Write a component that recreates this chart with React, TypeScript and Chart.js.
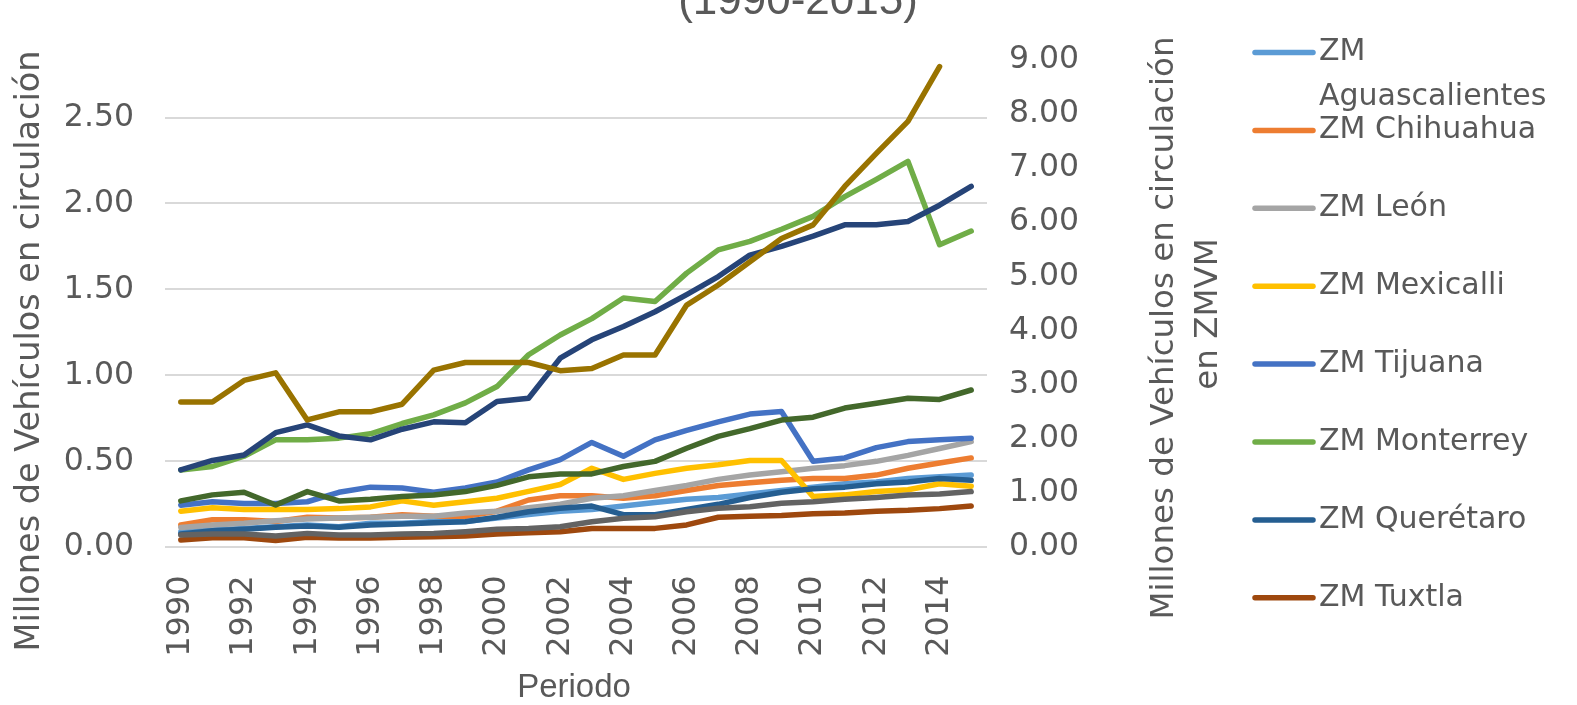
import React, { useEffect, useRef } from 'react';
import { Chart, registerables } from 'chart.js';

Chart.register(...registerables);

// ---------- data ----------
const years = ['1990','1991','1992','1993','1994','1995','1996','1997','1998','1999','2000','2001','2002','2003','2004','2005','2006','2007','2008','2009','2010','2011','2012','2013','2014','2015'];

const aguascalientes = [0.09,0.10,0.11,0.12,0.13,0.12,0.14,0.14,0.15,0.15,0.17,0.19,0.21,0.22,0.24,0.26,0.28,0.29,0.31,0.33,0.35,0.37,0.38,0.40,0.41,0.42];
const chihuahua = [0.13,0.16,0.16,0.15,0.175,0.17,0.175,0.19,0.18,0.18,0.21,0.275,0.30,0.30,0.285,0.30,0.33,0.36,0.375,0.39,0.40,0.40,0.42,0.46,0.49,0.52];
const leon = [0.115,0.13,0.14,0.155,0.165,0.17,0.175,0.18,0.18,0.20,0.21,0.23,0.25,0.285,0.30,0.33,0.36,0.395,0.42,0.44,0.46,0.475,0.50,0.535,0.575,0.615];
const mexicalli = [0.21,0.23,0.22,0.22,0.22,0.225,0.235,0.27,0.245,0.265,0.285,0.325,0.365,0.46,0.395,0.43,0.46,0.48,0.505,0.505,0.295,0.305,0.325,0.335,0.37,0.355];
const tijuana = [0.245,0.265,0.255,0.255,0.265,0.32,0.35,0.345,0.32,0.345,0.38,0.45,0.51,0.61,0.53,0.625,0.68,0.73,0.775,0.79,0.50,0.52,0.58,0.615,0.625,0.635];
const monterrey = [0.45,0.47,0.53,0.625,0.625,0.635,0.66,0.72,0.77,0.84,0.935,1.12,1.235,1.33,1.45,1.43,1.595,1.73,1.78,1.85,1.925,2.04,2.14,2.245,1.76,1.84];
const queretaro = [0.077,0.097,0.105,0.116,0.124,0.116,0.13,0.136,0.143,0.149,0.175,0.207,0.227,0.24,0.19,0.19,0.22,0.25,0.29,0.32,0.34,0.35,0.37,0.38,0.40,0.39];
const tuxtla = [0.042,0.056,0.056,0.04,0.058,0.054,0.054,0.058,0.062,0.066,0.077,0.085,0.091,0.11,0.11,0.11,0.13,0.175,0.18,0.185,0.195,0.20,0.21,0.215,0.225,0.24];
const toluca = [0.072,0.077,0.077,0.066,0.081,0.072,0.072,0.077,0.081,0.091,0.105,0.11,0.12,0.149,0.169,0.178,0.207,0.227,0.236,0.256,0.265,0.279,0.29,0.304,0.31,0.324];
const zmvm = [2.68,2.68,3.08,3.22,2.35,2.50,2.50,2.64,3.27,3.41,3.41,3.41,3.26,3.30,3.55,3.55,4.47,4.84,5.27,5.70,5.95,6.66,7.27,7.86,8.87,null];
const guadalajara = [0.45,0.505,0.537,0.667,0.712,0.648,0.625,0.687,0.73,0.725,0.848,0.867,1.10,1.207,1.284,1.37,1.47,1.575,1.70,1.75,1.81,1.876,1.876,1.895,1.99,2.10];
const puebla = [0.27,0.305,0.32,0.246,0.324,0.27,0.28,0.295,0.304,0.324,0.36,0.41,0.427,0.427,0.47,0.50,0.576,0.645,0.69,0.74,0.757,0.81,0.838,0.867,0.86,0.915];

const seriesNames = ['ZM Aguascalientes','ZM Chihuahua','ZM León','ZM Mexicalli','ZM Tijuana','ZM Monterrey','ZM Querétaro','ZM Tuxtla','ZM Toluca','ZMVM','ZM Guadalajara','ZM Puebla-Tlaxcala'];
const seriesData = [aguascalientes, chihuahua, leon, mexicalli, tijuana, monterrey, queretaro, tuxtla, toluca, zmvm, guadalajara, puebla];
const seriesColors = ['#5B9BD5','#ED7D31','#A5A5A5','#FFC000','#4472C4','#70AD47','#255E91','#9E480E','#636363','#997300','#264478','#43682B'];
const seriesAxis = ['y','y','y','y','y','y','y','y','y','y1','y','y'];

const legendLabels = [['ZM','Aguascalientes'],['ZM Chihuahua'],['ZM León'],['ZM Mexicalli'],['ZM Tijuana'],['ZM Monterrey'],['ZM Querétaro'],['ZM Tuxtla']];

const titleText = '(1990-2015)';
const xTitle = 'Periodo';
const yTitle = 'Millones de Vehículos en circulación';
const y1Title = ['Millones de Vehículos en circulación', 'en ZMVM'];

const TEXT = '#595959';
const FONT = '"DejaVu Sans", Verdana, sans-serif';
const NARROW = '"Liberation Sans Narrow", "Liberation Sans", Arial, sans-serif';

const overlay = {
  id: 'overlay',
  afterDraw(chart: any) {
    const ctx = chart.ctx;
    ctx.save();
    ctx.fillStyle = TEXT;
    // clipped title
    ctx.font = `44px ${NARROW}`;
    ctx.textAlign = 'center';
    ctx.textBaseline = 'alphabetic';
    ctx.fillText(titleText, 798, 14);
    // x title
    ctx.font = `33px ${NARROW}`;
    ctx.textBaseline = 'middle';
    ctx.fillText(xTitle, 574, 688);
    // left title
    ctx.font = `33.5px ${FONT}`;
    ctx.save();
    ctx.translate(30, 351);
    ctx.rotate(-Math.PI / 2);
    ctx.fillText(yTitle, 0, 0);
    ctx.restore();
    // right title
    ctx.font = `32.5px ${FONT}`;
    ctx.save();
    ctx.translate(1165, 328);
    ctx.rotate(-Math.PI / 2);
    ctx.fillText(y1Title[0], 0, 0);
    ctx.fillText(y1Title[1], 14, 44);
    ctx.restore();
    // legend
    ctx.font = `30px ${FONT}`;
    ctx.textAlign = 'left';
    legendLabels.forEach((lines, i) => {
      const y = 52.5 + 77.9 * i;
      ctx.strokeStyle = seriesColors[i];
      ctx.lineWidth = 5.5;
      ctx.lineCap = 'round';
      ctx.beginPath();
      ctx.moveTo(1255, y);
      ctx.lineTo(1313, y);
      ctx.stroke();
      lines.forEach((t, j) => ctx.fillText(t, 1319, y + j * 45));
    });
    ctx.restore();
  },
};

export default function App() {
  const ref = useRef<HTMLCanvasElement>(null);
  useEffect(() => {
    if (!ref.current) return;
    const datasets = seriesNames.map((name, i) => ({
      label: name,
      data: seriesData[i],
      borderColor: seriesColors[i],
      backgroundColor: seriesColors[i],
      borderWidth: 5.5,
      pointRadius: 0,
      tension: 0,
      borderJoinStyle: 'round' as const,
      borderCapStyle: 'round' as const,
      yAxisID: seriesAxis[i],
      order: seriesAxis[i] === 'y1' ? -100 : 50 - i,
    }));
    const chart = new Chart(ref.current, {
      type: 'line',
      data: { labels: years, datasets },
      plugins: [overlay],
      options: {
        animation: false,
        responsive: false,
        devicePixelRatio: 1,
        layout: { padding: { top: 59.6, left: 0, right: 490, bottom: 0 } },
        plugins: { legend: { display: false }, title: { display: false }, tooltip: { enabled: false } },
        scales: {
          x: {
            offset: true,
            grid: { display: false },
            border: { display: false },
            ticks: {
              autoSkip: false,
              minRotation: 90,
              maxRotation: 90,
              padding: 20,
              color: TEXT,
              font: { family: FONT, size: 32 },
              callback: (v: any, i: number) => (i % 2 === 0 ? years[i] : ''),
            },
            afterFit: (s: any) => { s.height = 157.7; },
          },
          y: {
            position: 'left',
            min: 0,
            max: 2.837,
            grid: { color: '#D9D9D9', lineWidth: 2, drawTicks: false },
            border: { display: false },
            ticks: {
              stepSize: 0.5,
              includeBounds: false,
              padding: 31,
              color: TEXT,
              font: { family: FONT, size: 31.5 },
              callback: (v: any) => Number(v).toFixed(2),
            },
            afterFit: (s: any) => { s.width = 165; },
          },
          y1: {
            position: 'right',
            min: 0,
            max: 9,
            grid: { display: false, drawTicks: false },
            border: { display: false },
            ticks: {
              stepSize: 1,
              padding: 22,
              color: TEXT,
              font: { family: FONT, size: 31.5 },
              callback: (v: any) => Number(v).toFixed(2),
            },
            afterFit: (s: any) => { s.width = 100; },
          },
        },
      },
    });
    return () => chart.destroy();
  }, []);
  return (
    <div style={{ position: 'fixed', left: 0, top: 0, width: 1577, height: 705, background: '#fff' }}>
      <canvas ref={ref} width={1577} height={705} style={{ width: 1577, height: 705, display: 'block' }} />
    </div>
  );
}
